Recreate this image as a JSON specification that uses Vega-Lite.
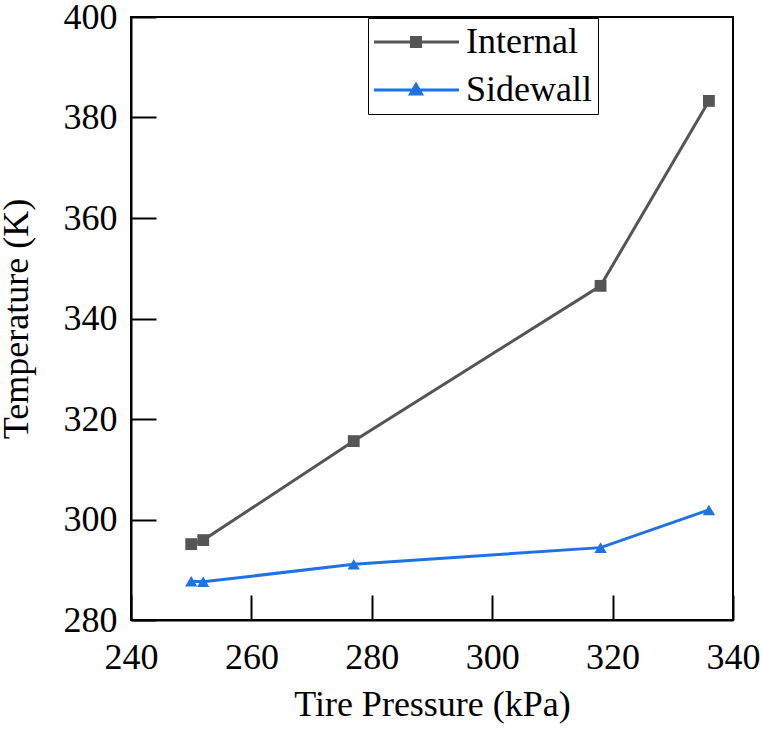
{
  "$schema": "https://vega.github.io/schema/vega-lite/v6.json",
  "autosize": "none",
  "width": 602,
  "height": 603,
  "padding": {"left": 131, "top": 17, "right": 29, "bottom": 109},
  "background": "white",
  "config": {
    "view": {"stroke": "black", "strokeWidth": 2},
    "font": "Liberation Serif",
    "axis": {
      "grid": false,
      "domainColor": "black",
      "domainWidth": 2,
      "tickColor": "black",
      "tickWidth": 2,
      "tickSize": -25,
      "labelFontSize": 36,
      "labelColor": "black",
      "labelFlush": false,
      "labelOverlap": false,
      "titleFont": "Liberation Serif",
      "titleFontSize": 36,
      "titleFontWeight": "normal",
      "titleColor": "black"
    }
  },
  "data": {
    "values": [
      {"pressure": 250, "temp": 295.1, "series": "Internal"},
      {"pressure": 252, "temp": 295.9, "series": "Internal"},
      {"pressure": 277, "temp": 315.6, "series": "Internal"},
      {"pressure": 318, "temp": 346.5, "series": "Internal"},
      {"pressure": 336, "temp": 383.3, "series": "Internal"},
      {"pressure": 250, "temp": 287.7, "series": "Sidewall"},
      {"pressure": 252, "temp": 287.6, "series": "Sidewall"},
      {"pressure": 277, "temp": 291.1, "series": "Sidewall"},
      {"pressure": 318, "temp": 294.4, "series": "Sidewall"},
      {"pressure": 336, "temp": 301.9, "series": "Sidewall"}
    ]
  },
  "encoding": {
    "x": {
      "field": "pressure", "type": "quantitative",
      "scale": {"domain": [240, 340], "nice": false, "zero": false},
      "axis": {"values": [240, 260, 280, 300, 320, 340], "title": "Tire Pressure (kPa)", "labelPadding": 45, "titlePadding": 12, "labelFont": "serif"}
    },
    "y": {
      "field": "temp", "type": "quantitative",
      "scale": {"domain": [280, 400], "nice": false, "zero": false},
      "axis": {"values": [280, 300, 320, 340, 360, 380, 400], "title": "Temperature (K)", "labelPadding": 39, "titlePadding": 28, "labelFont": "Times New Roman"}
    }
  },
  "layer": [
    {
      "transform": [{"filter": "datum.pressure < 0"}],
      "mark": {"type": "point", "filled": true, "strokeWidth": 3, "opacity": 1},
      "encoding": {
        "color": {
          "field": "series", "type": "nominal",
          "scale": {"domain": ["Internal", "Sidewall"], "range": ["#555555", "#1f72e6"]},
          "legend": {
            "orient": "none", "legendX": 237, "legendY": 1,
            "title": null,
            "labelFont": "Liberation Serif", "labelFontSize": 36, "labelColor": "black",
            "symbolSize": 100, "labelOffset": 56, "symbolStrokeWidth": 3,
            "rowPadding": 12,
            "strokeColor": "black", "fillColor": "white", "padding": 6
          }
        },
        "stroke": {
          "field": "series", "type": "nominal",
          "scale": {"domain": ["Internal", "Sidewall"], "range": ["#555555", "#1f72e6"]}
        },
        "shape": {
          "field": "series", "type": "nominal",
          "scale": {"domain": ["Internal", "Sidewall"], "range": ["M-3.6,0H13.4M3.9,-0.9H5.7V0.9H3.9Z", "M-3.6,0H13.4M4.8,-1.1L5.9,0.8H3.7Z"]}
        }
      }
    },
    {
      "mark": {"type": "line", "strokeWidth": 3},
      "encoding": {"color": {"field": "series", "type": "nominal"}}
    },
    {
      "transform": [{"filter": "datum.series === 'Internal'"}],
      "mark": {"type": "point", "filled": true, "size": 140, "opacity": 1, "shape": "square"},
      "encoding": {"color": {"field": "series", "type": "nominal"}}
    },
    {
      "transform": [{"filter": "datum.series === 'Sidewall'"}],
      "mark": {"type": "point", "filled": true, "size": 150, "opacity": 1, "shape": "triangle-up"},
      "encoding": {"color": {"field": "series", "type": "nominal"}}
    }
  ]
}
